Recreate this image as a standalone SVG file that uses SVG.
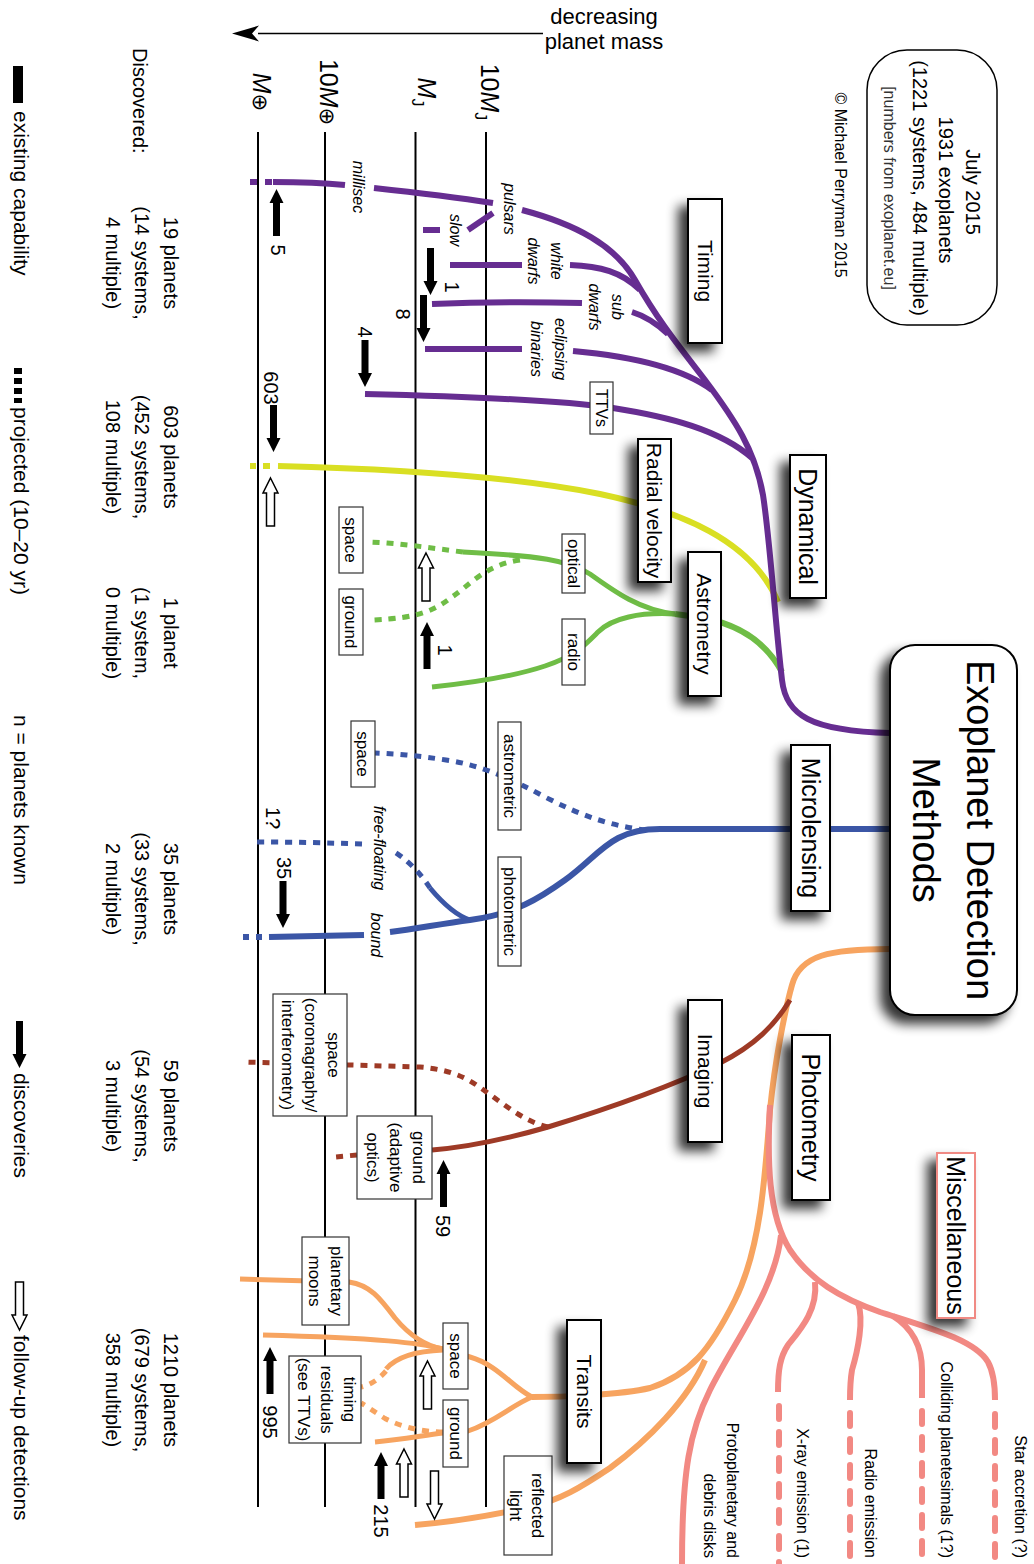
<svg xmlns="http://www.w3.org/2000/svg" width="1034" height="1564" viewBox="0 0 1034 1564">
<defs>
<filter id="sh" x="-80%" y="-30%" width="260%" height="170%">
<feGaussianBlur in="SourceAlpha" stdDeviation="6"/>
<feOffset dx="-9" dy="8"/>
<feComponentTransfer><feFuncA type="linear" slope="0.8"/></feComponentTransfer>
<feMerge><feMergeNode/><feMergeNode in="SourceGraphic"/></feMerge>
</filter>
<path id="ab" d="M0 0 L7 14 H3.5 V47 H-3.5 V14 H-7 Z"/>
<path id="aw" d="M0 0 L7.5 15 H4 V48 H-4 V15 H-7.5 Z"/>
</defs>
<style>
text{font-family:"Liberation Sans",Arial,sans-serif;fill:#000}
.ax{stroke:#000;stroke-width:2;fill:none}
.c{fill:none;stroke-width:6}
.n{stroke-width:5}
.pu{stroke:#662d91}
.ye{stroke:#d9df23}
.gr{stroke:#6fbd46}
.bl{stroke:#3b56a6}
.br{stroke:#9e3a26}
.or{stroke:#f7a460}
.pk{stroke:#f28983}
.d{stroke-dasharray:7 7}
.ds{stroke-dasharray:13 13;stroke-linecap:round}
.mb{fill:#fff;stroke:#000;stroke-width:2;filter:url(#sh)}
.sb{fill:#fff;stroke:#333;stroke-width:1.2}
.m{text-anchor:middle}
.e{text-anchor:end}
.it{font-style:italic;fill:#555;font-size:16px}
.ab{fill:#000}
.aw{fill:#fff;stroke:#000;stroke-width:1.5}
.f17{font-size:17px}
.f20{font-size:20px}
.f21{font-size:21px}
.f25{font-size:25px}
</style>
<rect width="1034" height="1564" fill="#fff"/>

<g id="mass-axis">
<line class="ax" x1="258" y1="132" x2="258" y2="1507"/>
<line class="ax" x1="325" y1="132" x2="325" y2="1507"/>
<line class="ax" x1="415.5" y1="132" x2="415.5" y2="1507"/>
<line class="ax" x1="486" y1="132" x2="486" y2="1507"/>
<line x1="258" y1="33.5" x2="543" y2="33.5" stroke="#000" stroke-width="1.7"/>
<path d="M232 33.5 L259 25.5 L252 33.5 L259 41.5 Z" fill="#000"/>
<text class="m" font-size="22" x="604" y="24">decreasing</text>
<text class="m" font-size="22" x="604" y="49">planet mass</text>
<text class="m" font-size="25" transform="translate(481 92) rotate(90)">10<tspan font-style="italic">M</tspan><tspan font-size="16" dy="6">J</tspan></text>
<text class="m" font-size="25" transform="translate(418 92) rotate(90)"><tspan font-style="italic">M</tspan><tspan font-size="16" dy="6">J</tspan></text>
<text class="m" font-size="25" transform="translate(320 92) rotate(90)">10<tspan font-style="italic">M</tspan><tspan font-family="DejaVu Sans" font-size="21">⊕</tspan></text>
<text class="m" font-size="25" transform="translate(253 92) rotate(90)"><tspan font-style="italic">M</tspan><tspan font-family="DejaVu Sans" font-size="21">⊕</tspan></text>
</g>

<g id="connectors">
<!-- radial velocity -->
<path class="c ye" d="M250 466 H256 M263 466 H270"/>
<path class="c ye" d="M278 466 C400 469, 520 478, 600 494 C680 511, 752 540, 778 602"/>
<!-- astrometry -->
<path class="c gr" d="M782 672 C765 640, 735 621, 690 616 L675 614"/>
<path class="c n gr" d="M675 614 C640 610, 615 592, 590 574 C568 560, 540 556, 463 552"/>
<path class="c n gr d" d="M463 552 C430 548, 400 543, 369 542"/>
<path class="c n gr d" d="M520 560 C485 565, 470 585, 452 597 C435 610, 420 618, 372 620"/>
<path class="c n gr" d="M675 614 C640 612, 612 618, 598 632 C584 646, 575 656, 545 666 C515 676, 470 683, 432 687"/>
<!-- microlensing -->
<path class="c bl" d="M890 829 L660 829 C610 829, 600 855, 565 880 C540 898, 515 914, 470 920 C440 924, 415 929, 390 932"/>
<path class="c bl" d="M364 935 L269 937"/>
<path class="c bl" d="M256 937 H262 M243 937 H249"/>
<path class="c n bl d" d="M646 830 C610 826, 580 815, 545 797 C510 778, 480 765, 446 760 C420 756, 400 754, 375 753"/>
<path class="c n bl" d="M470 920 C455 915, 440 900, 430 888"/>
<path class="c n bl d" d="M430 888 C420 872, 405 858, 393 851"/>
<path class="c n bl d" d="M362 844 C330 843, 300 842, 254 842"/>
<!-- photometry / transits -->
<path class="c or" d="M890 949 C830 949, 800 955, 792 985 C785 1010, 775 1060, 770 1110 C765 1180, 760 1250, 735 1300 C710 1350, 690 1375, 650 1388 C620 1395, 560 1397, 532 1397"/>
<path class="c or" d="M705 1360 C688 1400, 648 1440, 610 1468 C580 1488, 560 1500, 530 1507 C480 1518, 450 1522, 415 1525"/>
<path class="c n or" d="M532 1397 C512 1387, 498 1365, 470 1357 L443 1349"/>
<path class="c n or" d="M443 1349 C420 1345, 405 1330, 395 1318 C380 1298, 370 1285, 349 1282 L240 1279"/>
<path class="c n or" d="M443 1349 C420 1343, 380 1338, 263 1335"/>
<path class="c n or" d="M443 1350 C418 1351, 397 1356, 386 1369"/>
<path class="c n or d" d="M386 1371 C378 1380, 370 1385, 361 1387"/>
<path class="c n or" d="M532 1397 C512 1405, 495 1422, 468 1431 L443 1433 C420 1436, 400 1440, 375 1442"/>
<path class="c n or d" d="M443 1432 C420 1432, 400 1426, 386 1419 C376 1413, 368 1407, 361 1403"/>
<!-- miscellaneous -->
<path class="c pk" d="M770 1105 C767 1160, 768 1215, 790 1250 C810 1280, 840 1298, 880 1312 C930 1328, 975 1340, 988 1362 C994 1373, 995 1385, 995 1400"/>
<path class="c pk ds" d="M995 1414 V1570"/>
<path class="c pk" d="M781 1235 C775 1290, 735 1340, 710 1390 C690 1430, 682 1470, 682 1564"/>
<path class="c pk" d="M815 1282 C818 1310, 800 1330, 788 1345 C780 1357, 778 1370, 778 1392"/>
<path class="c pk ds" d="M779 1406 V1570"/>
<path class="c pk" d="M858 1303 C864 1320, 858 1350, 852 1370 C850 1382, 850 1392, 850 1400"/>
<path class="c pk ds" d="M850 1413 V1570"/>
<path class="c pk" d="M893 1316 C912 1328, 922 1345, 922 1370 L922 1398"/>
<path class="c pk ds" d="M922 1411 V1570"/>
<!-- imaging -->
<path class="c n br" d="M790 1000 C775 1025, 755 1045, 720 1063 C680 1082, 620 1105, 548 1127 C510 1138, 470 1147, 432 1150"/>
<path class="c n br d" d="M357 1155 L335 1157"/>
<path class="c n br d" d="M548 1127 C525 1122, 505 1105, 485 1091 C470 1080, 455 1070, 420 1067 L243 1062"/>
<!-- timing / dynamical -->
<path class="c pu" d="M250 182 H257 M265 182 H272"/>
<path class="c pu" d="M273 182 C300 182, 325 183, 345 185"/>
<path class="c pu" d="M374 188 C420 193, 460 198, 493 203"/>
<path class="c pu" d="M522 210 C575 224, 615 245, 635 280 S 670 335, 705 380 C735 420, 755 450, 763 495 C770 540, 775 620, 782 680 C786 715, 810 731, 890 733"/>
<path class="c pu" d="M423 230 H440"/>
<path class="c pu" d="M468 230 L493 213"/>
<path class="c pu" d="M450 265 H522"/>
<path class="c pu" d="M570 265 C600 266, 622 272, 640 290"/>
<path class="c pu" d="M432 304 C480 302, 540 302, 582 303"/>
<path class="c pu" d="M632 312 C645 316, 656 323, 668 334"/>
<path class="c pu" d="M425 349 H522"/>
<path class="c pu" d="M573 351 C640 357, 685 370, 712 390"/>
<path class="c pu" d="M365 394 C450 396, 560 400, 613 408 C670 417, 720 430, 752 458"/>
</g>

<g id="arrows">
<use href="#ab" class="ab" transform="translate(276.5 189)"/>
<use href="#ab" class="ab" transform="translate(430.5 295) rotate(180)"/>
<use href="#ab" class="ab" transform="translate(423.5 342) rotate(180)"/>
<use href="#ab" class="ab" transform="translate(365 387) rotate(180)"/>
<use href="#ab" class="ab" transform="translate(273.5 452) rotate(180)"/>
<use href="#ab" class="ab" transform="translate(427 622)"/>
<use href="#ab" class="ab" transform="translate(283 928) rotate(180)"/>
<use href="#ab" class="ab" transform="translate(443.5 1160)"/>
<use href="#ab" class="ab" transform="translate(270 1347)"/>
<use href="#ab" class="ab" transform="translate(381 1452)"/>
<use href="#aw" class="aw" transform="translate(270.5 478)"/>
<use href="#aw" class="aw" transform="translate(426 553)"/>
<use href="#aw" class="aw" transform="translate(427.5 1361)"/>
<use href="#aw" class="aw" transform="translate(404 1449)"/>
<use href="#aw" class="aw" transform="translate(434.5 1519) rotate(180)"/>
</g>

<g id="arrow-counts" class="f20">
<text class="m" transform="translate(271 250) rotate(90)">5</text>
<text class="m" transform="translate(445 287) rotate(90)">1</text>
<text class="m" transform="translate(396 314) rotate(90)">8</text>
<text class="m" transform="translate(358 332) rotate(90)">4</text>
<text class="m" transform="translate(264 388) rotate(90)">603</text>
<text class="m" transform="translate(438 650) rotate(90)">1</text>
<text class="m" transform="translate(266 818) rotate(90)">1?</text>
<text class="m" transform="translate(277 868) rotate(90)">35</text>
<text class="m" transform="translate(436 1226) rotate(90)">59</text>
<text class="m" transform="translate(263 1422) rotate(90)">995</text>
<text class="m" transform="translate(374 1521) rotate(90)">215</text>
</g>

<g id="branch-labels" class="it">
<text class="m" transform="translate(353 187) rotate(90)">millisec</text>
<text class="m" transform="translate(503.5 209) rotate(90)">pulsars</text>
<text class="m" transform="translate(450 230) rotate(90)">slow</text>
<text class="m" transform="translate(551 261) rotate(90)">white<tspan x="0" dy="23">dwarfs</tspan></text>
<text class="m" transform="translate(612 307) rotate(90)">sub<tspan x="0" dy="23">dwarfs</tspan></text>
<text class="m" transform="translate(555 349) rotate(90)">eclipsing<tspan x="0" dy="24">binaries</tspan></text>
<text class="m" transform="translate(374 848) rotate(90)">free-floating</text>
<text class="m" transform="translate(371 935) rotate(90)">bound</text>
</g>

<g id="node-ttvs"><rect class="sb" x="590" y="382" width="23" height="52"/><text class="m" font-size="16" transform="translate(595.5 408) rotate(90)">TTVs</text></g>
<g id="node-rv-optical"><rect class="sb" x="562" y="534" width="23" height="59"/><text class="m f17" transform="translate(567.5 563.5) rotate(90)">optical</text></g>
<g id="node-rv-radio"><rect class="sb" x="562" y="619" width="23" height="66"/><text class="m f17" transform="translate(567.5 652) rotate(90)">radio</text></g>
<g id="node-astro-space"><rect class="sb" x="339" y="507" width="24" height="66"/><text class="m f17" transform="translate(345 540) rotate(90)">space</text></g>
<g id="node-astro-ground"><rect class="sb" x="339" y="589" width="24" height="66"/><text class="m f17" transform="translate(345 622) rotate(90)">ground</text></g>
<g id="node-ml-astrometric"><rect class="sb" x="498" y="722" width="23" height="108"/><text class="m f17" transform="translate(503.5 776) rotate(90)">astrometric</text></g>
<g id="node-ml-photometric"><rect class="sb" x="498" y="857" width="23" height="109"/><text class="m f17" transform="translate(503.5 911.5) rotate(90)">photometric</text></g>
<g id="node-ml-space"><rect class="sb" x="351" y="721" width="24" height="66"/><text class="m f17" transform="translate(357 754) rotate(90)">space</text></g>
<g id="node-im-space"><rect class="sb" x="273" y="994" width="74" height="122"/><text class="m f17" transform="translate(328 1055) rotate(90)">space<tspan x="0" dy="23">(coronagraphy/</tspan><tspan x="0" dy="23">interferometry)</tspan></text></g>
<g id="node-im-ground"><rect class="sb" x="357" y="1116" width="75" height="83"/><text class="m f17" transform="translate(413 1157.5) rotate(90)">ground<tspan x="0" dy="23">(adaptive</tspan><tspan x="0" dy="23">optics)</tspan></text></g>
<g id="node-tr-moons"><rect class="sb" x="302" y="1237" width="47" height="88"/><text class="m f17" transform="translate(331 1281) rotate(90)">planetary<tspan x="0" dy="22">moons</tspan></text></g>
<g id="node-tr-timing"><rect class="sb" x="289" y="1356" width="72" height="87"/><text class="m f17" transform="translate(344 1399.5) rotate(90)">timing<tspan x="0" dy="23">residuals</tspan><tspan x="0" dy="23">(see TTVs)</tspan></text></g>
<g id="node-tr-space"><rect class="sb" x="443" y="1323" width="25" height="66"/><text class="m f17" transform="translate(449.5 1356) rotate(90)">space</text></g>
<g id="node-tr-ground"><rect class="sb" x="443" y="1400" width="25" height="67"/><text class="m f17" transform="translate(449.5 1433.5) rotate(90)">ground</text></g>
<g id="node-reflected"><rect class="sb" x="504" y="1456" width="48" height="99"/><text class="m f17" transform="translate(532 1505.5) rotate(90)">reflected<tspan x="0" dy="22">light</tspan></text></g>

<g id="node-timing"><rect class="mb" x="688" y="199" width="34" height="144"/><text class="m f21" transform="translate(697.5 271) rotate(90)">Timing</text></g>
<g id="node-dynamical"><rect class="mb" x="790" y="455" width="36" height="143"/><text class="m f25" transform="translate(799 526.5) rotate(90)">Dynamical</text></g>
<g id="node-rv"><rect class="mb" x="638" y="439" width="33" height="143"/><text class="m f21" transform="translate(647 510.5) rotate(90)">Radial velocity</text></g>
<g id="node-astrometry"><rect class="mb" x="688" y="552" width="33" height="144"/><text class="m f21" transform="translate(697 624) rotate(90)">Astrometry</text></g>
<g id="node-microlensing"><rect class="mb" x="791" y="745" width="39" height="166"/><text class="m f25" transform="translate(801.5 828) rotate(90)">Microlensing</text></g>
<g id="node-imaging"><rect class="mb" x="688" y="1000" width="34" height="142"/><text class="m f21" transform="translate(697.5 1071) rotate(90)">Imaging</text></g>
<g id="node-photometry"><rect class="mb" x="792" y="1035" width="38" height="165"/><text class="m f25" transform="translate(802 1117.5) rotate(90)">Photometry</text></g>
<g id="node-transits"><rect class="mb" x="567" y="1320" width="34" height="143"/><text class="m f21" transform="translate(576.5 1391.5) rotate(90)">Transits</text></g>
<g id="node-misc"><rect class="mb" x="937" y="1153" width="38" height="165" style="stroke:#f08a84"/><text class="m f25" transform="translate(947 1235.5) rotate(90)">Miscellaneous</text></g>
<g id="node-main"><rect class="mb" x="890" y="645" width="127" height="370" rx="25"/><text class="m" font-size="38" transform="translate(967 830) rotate(90)">Exoplanet Detection<tspan x="0" dy="54">Methods</tspan></text></g>

<g id="misc-labels" font-size="16">
<text class="e" transform="translate(1015 1558) rotate(90)">Star accretion (?)</text>
<text class="e" transform="translate(941 1558) rotate(90)">Colliding planetesimals (1?)</text>
<text class="e" transform="translate(865 1558) rotate(90)">Radio emission</text>
<text class="e" transform="translate(797 1558) rotate(90)">X-ray emission (1)</text>
<text class="e" transform="translate(727 1558) rotate(90)">Protoplanetary and<tspan x="0" dy="23">debris disks</tspan></text>
</g>

<g id="node-summary">
<rect x="867" y="50" width="130" height="275" rx="40" fill="#fff" stroke="#000" stroke-width="1.5"/>
<text class="m f20" transform="translate(966 192) rotate(90)">July 2015</text>
<text class="m f20" transform="translate(939 190) rotate(90)">1931 exoplanets</text>
<text class="m f20" transform="translate(913 188) rotate(90)">(1221 systems, 484 multiple)</text>
<text class="m" font-size="16" transform="translate(884 188) rotate(90)" style="fill:#333">[numbers from exoplanet.eu]</text>
<text class="m" font-size="16" transform="translate(835 185) rotate(90)">© Michael Perryman 2015</text>
</g>

<g id="discovered" class="f20">
<text transform="translate(133 48) rotate(90)">Discovered:</text>
<text class="m" transform="translate(164 263) rotate(90)">19 planets<tspan x="0" dy="29">(14 systems,</tspan><tspan x="0" dy="29">4 multiple)</tspan></text>
<text class="m" transform="translate(164 457) rotate(90)">603 planets<tspan x="0" dy="29">(452 systems,</tspan><tspan x="0" dy="29">108 multiple)</tspan></text>
<text class="m" transform="translate(164 633) rotate(90)">1 planet<tspan x="0" dy="29">(1 system,</tspan><tspan x="0" dy="29">0 multiple)</tspan></text>
<text class="m" transform="translate(164 889) rotate(90)">35 planets<tspan x="0" dy="29">(33 systems,</tspan><tspan x="0" dy="29">2 multiple)</tspan></text>
<text class="m" transform="translate(164 1106) rotate(90)">59 planets<tspan x="0" dy="29">(54 systems,</tspan><tspan x="0" dy="29">3 multiple)</tspan></text>
<text class="m" transform="translate(164 1390) rotate(90)">1210 planets<tspan x="0" dy="29">(679 systems,</tspan><tspan x="0" dy="29">358 multiple)</tspan></text>
</g>

<g id="legend" class="f21">
<rect x="13" y="66" width="10" height="37" fill="#000"/>
<text transform="translate(14 111) rotate(90)">existing capability</text>
<rect x="14" y="368" width="8" height="6" fill="#000"/>
<rect x="14" y="378" width="8" height="6" fill="#000"/>
<rect x="14" y="388" width="8" height="6" fill="#000"/>
<rect x="14" y="398" width="8" height="5" fill="#000"/>
<text transform="translate(14 407) rotate(90)">projected (10–20 yr)</text>
<text transform="translate(14 715) rotate(90)">n = planets known</text>
<use href="#ab" class="ab" transform="translate(19.5 1068) rotate(180)"/>
<text transform="translate(14 1073) rotate(90)">discoveries</text>
<use href="#aw" class="aw" transform="translate(19.5 1330) rotate(180)"/>
<text transform="translate(14 1335) rotate(90)">follow-up detections</text>
</g>
</svg>
